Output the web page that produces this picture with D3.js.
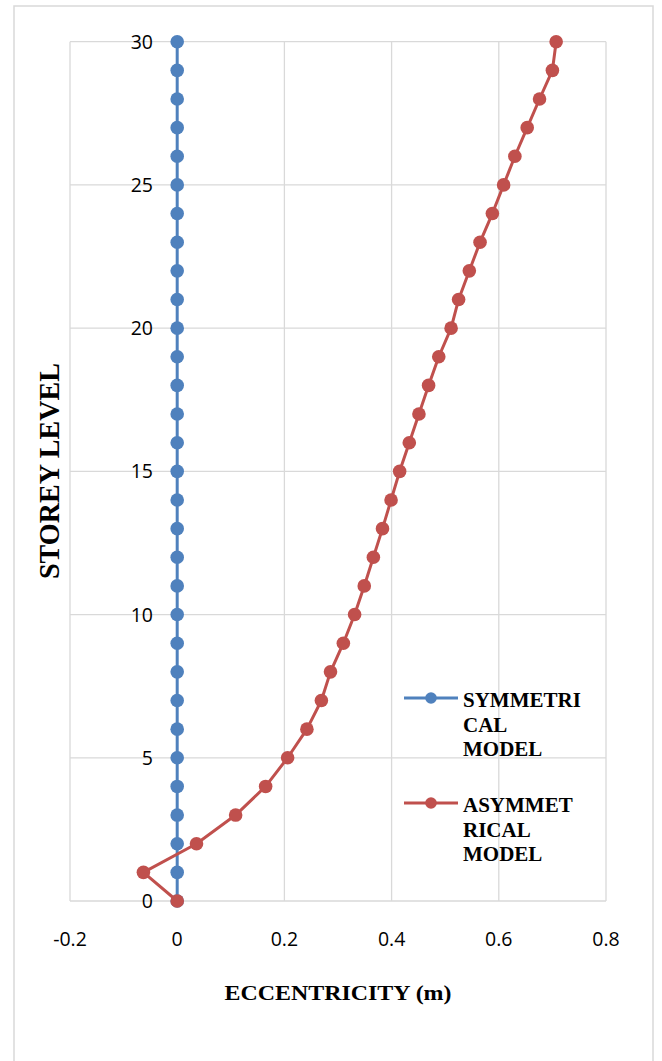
<!DOCTYPE html>
<html>
<head>
<meta charset="utf-8">
<script src="https://cdn.jsdelivr.net/npm/d3@7"></script>
<style>
  html, body { margin: 0; padding: 0; background: #fff; }
  svg { display: block; }
</style>
</head>
<body>
<svg id="svg" width="662" height="1061"></svg>
<script>
const $svg = d3.select('#svg')

// storey levels 0..30
const storeys = d3.range(0, 31)
const symmetrical = [
	0, 0, 0, 0, 0, 0, 0, 0, 0, 0,
	0, 0, 0, 0, 0, 0, 0, 0, 0, 0,
	0, 0, 0, 0, 0, 0, 0, 0, 0, 0, 0
]
const asymmetrical = [
	0, -0.063, 0.036, 0.109, 0.165, 0.206, 0.242, 0.269, 0.286, 0.310,
	0.331, 0.349, 0.366, 0.383, 0.399, 0.415, 0.433, 0.451, 0.469, 0.488,
	0.511, 0.525, 0.545, 0.565, 0.588, 0.609, 0.630, 0.653, 0.676, 0.700, 0.707
]
const xTicks = [-0.2, 0, 0.2, 0.4, 0.6, 0.8]
const xTickLabels = ['-0.2', '0', '0.2', '0.4', '0.6', '0.8']
const yTicks = [0, 5, 10, 15, 20, 25, 30]
const seriesNames = [['SYMMETRI', 'CAL', 'MODEL'], ['ASYMMET', 'RICAL', 'MODEL']]
const colors = ['#4F81BD', '#C0504D']

const plot = { left: 70, right: 606, top: 41.7, bottom: 901 }

const xScale = d3.scaleLinear()
	.domain([-0.2, 0.8])
	.range([plot.left, plot.right])

const yScale = d3.scaleLinear()
	.domain([0, 30])
	.range([plot.bottom, plot.top])

// outer chart border
$svg.append('rect')
	.attr('x', 14).attr('y', 6)
	.attr('width', 639).attr('height', 1070)
	.attr('fill', 'none')
	.attr('stroke', '#d9d9d9')
	.attr('stroke-width', 1.5)

// grid
const $grid = $svg.append('g')
	.attr('stroke', '#d9d9d9')
	.attr('stroke-width', 1.3)

$grid.selectAll('line.v')
	.data(xTicks)
	.join('line')
	.attr('x1', d => xScale(d)).attr('x2', d => xScale(d))
	.attr('y1', plot.top).attr('y2', plot.bottom)

$grid.selectAll('line.h')
	.data(yTicks)
	.join('line')
	.attr('x1', plot.left).attr('x2', plot.right)
	.attr('y1', d => yScale(d)).attr('y2', d => yScale(d))

// tick labels
const tickFont = '"Open Sans", sans-serif'

$svg.append('g')
	.selectAll('text')
	.data(yTicks)
	.join('text')
	.attr('x', 153)
	.attr('y', d => yScale(d) + 7)
	.attr('text-anchor', 'end')
	.attr('font-family', tickFont)
	.attr('font-size', 19.5)
	.attr('fill', '#000')
	.text(d => d)

$svg.append('g')
	.selectAll('text')
	.data(xTicks)
	.join('text')
	.attr('x', d => xScale(d))
	.attr('y', 946)
	.attr('text-anchor', 'middle')
	.attr('font-family', tickFont)
	.attr('font-size', 19.5)
	.attr('fill', '#000')
	.text((d, i) => xTickLabels[i])

// axis titles
$svg.append('text')
	.attr('x', (plot.left + plot.right) / 2)
	.attr('y', 1000)
	.attr('text-anchor', 'middle')
	.attr('font-family', '"Liberation Serif", "Times New Roman", serif')
	.attr('font-weight', 'bold')
	.attr('font-size', 22)
	.attr('textLength', 227)
	.attr('lengthAdjust', 'spacingAndGlyphs')
	.text('ECCENTRICITY (m)')

$svg.append('text')
	.attr('transform', 'translate(59, 471) rotate(-90)')
	.attr('text-anchor', 'middle')
	.attr('font-family', '"Liberation Serif", "Times New Roman", serif')
	.attr('font-weight', 'bold')
	.attr('font-size', 30)
	.attr('textLength', 216)
	.attr('lengthAdjust', 'spacingAndGlyphs')
	.text('STOREY LEVEL')

// series
const generateLine = d3.line()
	.x(d => xScale(d.x))
	.y(d => yScale(d.y))

const series = [symmetrical, asymmetrical].map(values => {
	return values.map((v, index) => ({ x: v, y: storeys[index] }))
})

series.forEach((points, index) => {
	const $g = $svg.append('g')
	$g.append('path')
		.attr('d', generateLine(points))
		.attr('fill', 'none')
		.attr('stroke', colors[index])
		.attr('stroke-width', 3)
		.attr('stroke-linejoin', 'round')
	$g.selectAll('circle')
		.data(points)
		.join('circle')
		.attr('cx', d => xScale(d.x))
		.attr('cy', d => yScale(d.y))
		.attr('r', 6.8)
		.attr('fill', colors[index])
})

// legend
const legendY = [698, 803]
seriesNames.forEach((lines, index) => {
	const $g = $svg.append('g')
	$g.append('line')
		.attr('x1', 404).attr('x2', 458)
		.attr('y1', legendY[index]).attr('y2', legendY[index])
		.attr('stroke', colors[index])
		.attr('stroke-width', 3)
	$g.append('circle')
		.attr('cx', 431).attr('cy', legendY[index])
		.attr('r', 5.8)
		.attr('fill', colors[index])
	$g.selectAll('text')
		.data(lines)
		.join('text')
		.attr('x', 463)
		.attr('y', (d, i) => legendY[index] + 9 + i * 24.5)
		.attr('font-family', '"Liberation Serif", "Times New Roman", serif')
		.attr('font-weight', 'bold')
		.attr('font-size', 21)
		.attr('fill', '#000')
		.text(d => d)
})
</script>
</body>
</html>
